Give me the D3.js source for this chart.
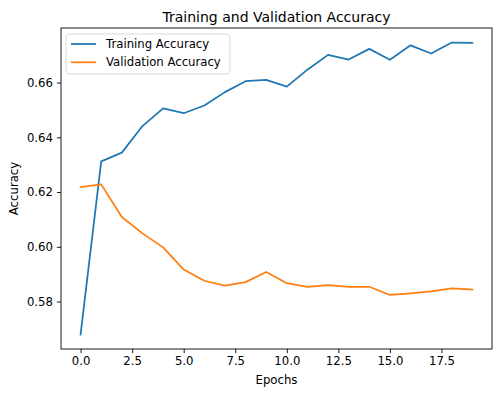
<!DOCTYPE html>
<html>
<head>
<meta charset="utf-8">
<script src="https://cdn.jsdelivr.net/npm/d3@7"></script>
<style>
  body { margin: 0; background: #fff; }
  svg { font-family: "DejaVu Sans", sans-serif; }
</style>
</head>
<body>
<script>
// Chart data
var epochs = d3.range(0, 20);
var trainAcc = [0.5680, 0.6312, 0.6344, 0.6441, 0.6506, 0.6488, 0.6516, 0.6565, 0.6605, 0.6610,
                0.6585, 0.6647, 0.6701, 0.6684, 0.6723, 0.6683, 0.6736, 0.6706, 0.6746, 0.6745];
var valAcc = [0.6218, 0.6228, 0.6109, 0.6049, 0.5998, 0.5917, 0.5876, 0.5858, 0.5871, 0.5908,
              0.5867, 0.5854, 0.5860, 0.5854, 0.5854, 0.5824, 0.5830, 0.5837, 0.5848, 0.5844];
var xTicks = [0, 2.5, 5, 7.5, 10, 12.5, 15, 17.5];
var yTicks = [0.58, 0.60, 0.62, 0.64, 0.66];
var seriesNames = ["Training Accuracy", "Validation Accuracy"];
var colors = ["#1f77b4", "#ff7f0e"];

var width = 500,
    height = 395;
var margin = {top: 28, right: 8, bottom: 46, left: 61};
var innerW = width - margin.left - margin.right,
    innerH = height - margin.top - margin.bottom;

var svg = d3.select("body")
  .append("svg")
  .attr("width", width)
  .attr("height", height);

// matplotlib style 5% margins around the data
var yMin = d3.min(trainAcc.concat(valAcc)),
    yMax = d3.max(trainAcc.concat(valAcc));
var yPad = (yMax - yMin) * 0.05;
var xPad = (d3.max(epochs) - d3.min(epochs)) * 0.05;

var x = d3.scaleLinear()
  .domain([d3.min(epochs) - xPad, d3.max(epochs) + xPad])
  .range([0, innerW]);

var y = d3.scaleLinear()
  .domain([yMin - yPad, yMax + yPad])
  .range([innerH, 0]);

var g = svg.append("g")
  .attr("transform", "translate(" + margin.left + "," + margin.top + ")");

// Axes
var xAxis = g.append("g")
  .attr("transform", "translate(0," + innerH + ")")
  .call(d3.axisBottom(x).tickValues(xTicks).tickSize(4.1).tickPadding(4)
    .tickFormat(d3.format(".1f")));

var yAxis = g.append("g")
  .call(d3.axisLeft(y).tickValues(yTicks).tickSize(4.1).tickPadding(4)
    .tickFormat(d3.format(".2f")));

[xAxis, yAxis].forEach(function(a){
  a.select(".domain").remove();
  a.selectAll("text").attr("fill", "#000").style("font-size", "11.7px")
    .style("font-family", "DejaVu Sans, sans-serif");
  a.selectAll("line").attr("stroke", "#000").attr("stroke-width", 0.9);
});

// Lines
var line = d3.line()
  .x(function(d, i){ return x(epochs[i]); })
  .y(function(d){ return y(d); });

[trainAcc, valAcc].forEach(function(series, i){
  g.append("path")
    .datum(series)
    .attr("fill", "none")
    .attr("stroke", colors[i])
    .attr("stroke-width", 1.75)
    .attr("stroke-linejoin", "round")
    .attr("stroke-linecap", "square")
    .attr("d", line);
});

// Frame
g.append("rect")
  .attr("width", innerW)
  .attr("height", innerH)
  .attr("fill", "none")
  .attr("stroke", "#000")
  .attr("stroke-width", 0.9);

// Legend
var legend = g.append("g").attr("transform", "translate(5,6)");
legend.append("rect")
  .attr("width", 164)
  .attr("height", 40)
  .attr("rx", 3)
  .attr("fill", "#fff")
  .attr("fill-opacity", 0.8)
  .attr("stroke", "#d6d6d6")
  .attr("stroke-width", 0.9);

seriesNames.forEach(function(name, i){
  var ly = 10 + i * 18.3;
  legend.append("line")
    .attr("x1", 5).attr("x2", 30)
    .attr("y1", ly).attr("y2", ly)
    .attr("stroke", colors[i])
    .attr("stroke-width", 1.75);
  legend.append("text")
    .attr("x", 40)
    .attr("y", ly)
    .attr("dy", "0.35em")
    .style("font-size", "11.7px")
    .text(name);
});

// Titles
svg.append("text")
  .attr("x", margin.left + innerW / 2)
  .attr("y", 21.5)
  .attr("text-anchor", "middle")
  .style("font-size", "14px")
  .text("Training and Validation Accuracy");

svg.append("text")
  .attr("x", margin.left + innerW / 2)
  .attr("y", 383.5)
  .attr("text-anchor", "middle")
  .style("font-size", "11.7px")
  .text("Epochs");

svg.append("text")
  .attr("transform", "translate(18," + (margin.top + innerH / 2) + ") rotate(-90)")
  .attr("text-anchor", "middle")
  .style("font-size", "11.7px")
  .text("Accuracy");
</script>
</body>
</html>
